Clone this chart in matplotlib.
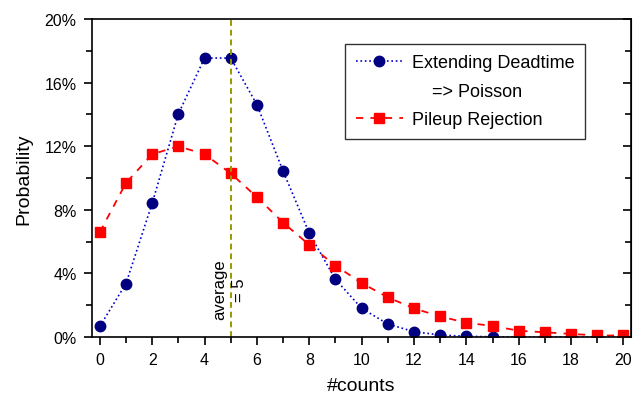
import matplotlib.pyplot as plt
from matplotlib.lines import Line2D
from matplotlib.ticker import MultipleLocator, PercentFormatter

plt.rcParams['font.family'] = ['Liberation Sans', 'DejaVu Sans']

counts = list(range(21))
poisson = [0.0067, 0.0337, 0.0842, 0.1404, 0.1755, 0.1755, 0.1462, 0.1044,
           0.0653, 0.0363, 0.0181, 0.0082, 0.0034, 0.0013, 0.0005, 0.0002,
           0.0, 0.0, 0.0, 0.0, 0.0]
pileup = [0.066, 0.097, 0.115, 0.120, 0.115, 0.103, 0.088, 0.072, 0.058,
          0.045, 0.034, 0.025, 0.018, 0.013, 0.009, 0.007, 0.004, 0.003,
          0.002, 0.001, 0.001]
average = 5

fig = plt.figure(figsize=(6.33, 4.02), dpi=100)
ax = fig.add_axes([0.1453, 0.159, 0.852, 0.791])

ax.plot(counts, poisson, color='#0000cc', ls=':', lw=1.2, marker='o',
        markersize=7.5, markerfacecolor='#000080', markeredgecolor='#000080')
ax.plot(counts, pileup, color='red', ls=(0, (4, 4)), lw=1.3, marker='s',
        markersize=7.2, markerfacecolor='red', markeredgecolor='red')
ax.axvline(average, color='#999900', ls='--', lw=1.4, dashes=(3, 2))
ax.text(average - 0.05, 0.0113, 'average\n= 5', rotation=90, ha='center',
        va='bottom', fontsize=12, multialignment='center', linespacing=1.35)

ax.set_xlim(-0.3, 20.3)
ax.set_ylim(0, 0.20)
ax.xaxis.set_major_locator(MultipleLocator(2))
ax.xaxis.set_minor_locator(MultipleLocator(1))
ax.yaxis.set_major_locator(MultipleLocator(0.04))
ax.yaxis.set_minor_locator(MultipleLocator(0.02))
ax.yaxis.set_major_formatter(PercentFormatter(1.0, decimals=0))
ax.tick_params(which='both', direction='out', labelsize=11.5, width=1.2)
ax.tick_params(which='major', length=6, pad=5)
ax.tick_params(which='minor', length=4)
for s in ax.spines.values():
    s.set_linewidth(1.2)

ax2 = ax.secondary_yaxis('right')
ax2.yaxis.set_major_locator(MultipleLocator(0.04))
ax2.yaxis.set_minor_locator(MultipleLocator(0.02))
ax2.tick_params(which='both', direction='in', labelright=False, width=1.2)
ax2.tick_params(which='major', length=6)
ax2.tick_params(which='minor', length=4)

ax.set_xlabel('#counts', fontsize=14, labelpad=7)
ax.set_ylabel('Probability', fontsize=14, labelpad=9)

handles = [
    Line2D([], [], color='#0000cc', ls=':', lw=1.2, marker='o', markersize=7.5,
           markerfacecolor='#000080', markeredgecolor='#000080'),
    Line2D([], [], color='none'),
    Line2D([], [], color='red', ls=(0, (4, 4)), lw=1.3, marker='s',
           markersize=7.2, markerfacecolor='red', markeredgecolor='red'),
]
labels = ['Extending Deadtime', '    => Poisson', 'Pileup Rejection']
leg = ax.legend(handles, labels, loc='upper left', bbox_to_anchor=(0.469, 0.9228),
                fontsize=13, frameon=True, fancybox=False, edgecolor='black',
                handlelength=2.6, handletextpad=0.5, labelspacing=0.62,
                borderpad=0.6, borderaxespad=0)
leg.get_frame().set_linewidth(1.0)

fig.savefig('out.png', dpi=100)
